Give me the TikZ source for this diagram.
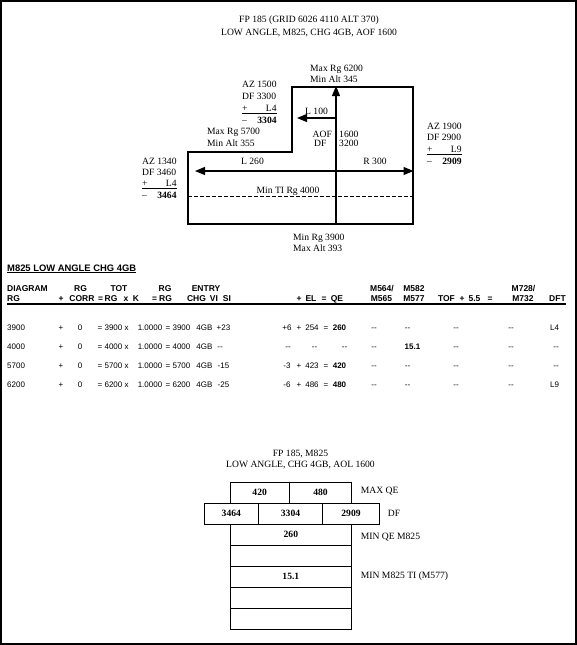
\documentclass[tikz,border=0pt]{standalone}
\usepackage{fontspec}
\setmainfont{Liberation Serif}
\newfontfamily\arialf{Liberation Sans}
\usetikzlibrary{arrows.meta}
\newcommand\dsh{-{}-}
\begin{document}
\begin{tikzpicture}[x=1pt,y=-1pt,
  sr/.style={inner sep=0pt,font=\fontsize{9.6}{11}\selectfont},
  srb/.style={inner sep=0pt,font=\bfseries\fontsize{9.6}{11}\selectfont},
  hd/.style={inner sep=0pt,anchor=base,font=\arialf\bfseries\fontsize{8.5}{10}\selectfont},
  dt/.style={inner sep=0pt,anchor=base,font=\arialf\fontsize{8}{10}\selectfont},
  outline/.style={draw,line width=1.1pt},
  tip/.tip={Triangle[length=10pt,width=8pt]},
  arr/.style={line width=1.1pt,-tip},
  cell/.style={draw,line width=0.9pt,inner sep=0pt,minimum height=21pt,font=\bfseries\fontsize{9.6}{11}\selectfont},
]
\useasboundingbox (0,0) rectangle (577,645);
\fill[white] (0,0) rectangle (577,645);
% frame
\fill[black] (0,0) rectangle (577,2);
\fill[black] (0,0) rectangle (2,645);
\fill[black] (574.5,0) rectangle (577,645);
\fill[black] (0,642.5) rectangle (577,645);

% ---------- top diagram ----------
\node[sr,anchor=base] (t1) at (309,22.4) {FP 185 (GRID 6026 4110 ALT 370)};
\node[sr,anchor=base] (t2) at (309,35.4) {LOW ANGLE, M825, CHG 4GB, AOF 1600};

\draw[outline] (188,152) -- (292,152) -- (292,87) -- (413,87) -- (413,224) -- (188,224) -- cycle;
\draw[dashed,dash pattern=on 4pt off 2pt,line width=0.9pt] (188,196.5) -- (413,196.5);

\coordinate (vb) at (336,224);
\coordinate (vt) at (336,86);
\coordinate (lj) at (336,118);
\coordinate (lt) at (297,118);
\coordinate (hl) at (195,171);
\coordinate (hr) at (413.5,171);
\draw[arr] (vb) -- (vt);
\draw[arr] (lj) -- (lt);
\draw[line width=1.1pt,tip-tip] (hl) -- (hr);

\node[sr,anchor=base west] (mx62) at (310,71.7) {Max Rg 6200};
\node[sr,anchor=base west] (mn345) at (310,82.6) {Min Alt 345};
\node[sr,anchor=base west] (l100) at (305,114.4) {L 100};
\node[sr,anchor=base west] (aof) at (312.5,137.3) {AOF};
\node[sr,anchor=base west] (aofv) at (339,137.3) {1600};
\node[sr,anchor=base west] (df) at (314,146.8) {DF};
\node[sr,anchor=base west] (dfv) at (339,146.8) {3200};
\node[sr,anchor=base west] (mx57) at (207,134.6) {Max Rg 5700};
\node[sr,anchor=base west] (mn355) at (207,146.1) {Min Alt 355};
\node[sr,anchor=base] (l260) at (252.5,164) {L 260};
\node[sr,anchor=base] (r300) at (375,164) {R 300};
\node[sr,anchor=base] (minti) at (288,193) {Min TI Rg 4000};
\node[sr,anchor=base west] (mn39) at (293,240) {Min Rg 3900};
\node[sr,anchor=base west] (mx393) at (293,251.5) {Max Alt 393};

% AZ 1500 block
\node[sr,anchor=base west] (az15) at (242,87) {AZ 1500};
\node[sr,anchor=base west] (df33) at (242,99) {DF 3300};
\node[sr,anchor=base west] (p15) at (242,111) {+};
\node[sr,anchor=base east] (l415) at (az15.base east |- 0,111) {L4};
\draw[line width=0.9pt] (az15.west |- 0,113.6) -- (az15.east |- 0,113.6);
\node[sr,anchor=base west] (e15) at (242,123) {--};
\node[srb,anchor=base east] (v3304) at (az15.base east |- 0,123) {3304};

% AZ 1340 block
\node[sr,anchor=base west] (az13) at (142,164) {AZ 1340};
\node[sr,anchor=base west] (df34) at (142,175.4) {DF 3460};
\node[sr,anchor=base west] (p13) at (142,186.7) {+};
\node[sr,anchor=base east] (l413) at (az13.base east |- 0,186.7) {L4};
\draw[line width=1.6pt] (az13.west |- 0,188.6) -- (az13.east |- 0,188.6);
\node[sr,anchor=base west] (e13) at (142,198.4) {--};
\node[srb,anchor=base east] (v3464) at (az13.base east |- 0,198.4) {3464};

% AZ 1900 block
\node[sr,anchor=base west] (az19) at (427,129.4) {AZ 1900};
\node[sr,anchor=base west] (df29) at (427,140.9) {DF 2900};
\node[sr,anchor=base west] (p19) at (427,152) {+};
\node[sr,anchor=base east] (l919) at (az19.base east |- 0,152) {L9};
\draw[line width=0.9pt] (az19.west |- 0,154) -- (az19.east |- 0,154);
\node[sr,anchor=base west] (e19) at (427,164) {--};
\node[srb,anchor=base east] (v2909) at (az19.base east |- 0,164) {2909};

% ---------- table ----------
\node[hd,anchor=base west,font=\arialf\bfseries\fontsize{9.4}{10}\selectfont] (tt) at (7,271) {M825 LOW ANGLE CHG 4GB};
\draw[line width=0.9pt] ([yshift=-1.6pt]tt.base west) -- ([yshift=-1.6pt]tt.base east);

\node[hd,anchor=base west] (hdiag) at (7,291.5) {DIAGRAM};
\foreach \x/\t [count=\k] in {80.5/RG,119/TOT,165/RG,206/ENTRY,382/M564\slash,414/M582,523.5/M728\slash}
  \node[hd] (ha\k) at (\x,291.5) {\t};
\node[hd,anchor=base west] (hrg) at (7,301.5) {RG};
\foreach \x/\t [count=\k] in {61/+,82/CORR,100.5/=,111/RG,126/x,136/K,154.5/=,165.5/RG,196.5/CHG,214/VI,227/SI,299/+,311/EL,324/=,337/QE,381.5/M565,414/M577,446.5/TOF,462/+,474.5/5.5,490/=,523/M732,557.5/DFT}
  \node[hd] (hb\k) at (\x,301.5) {\t};
\draw[line width=1.5pt] (hrg.west |- 0,304.2) -- (hb23.east |- 0,304.2);

% common columns
\foreach \y/\v [count=\r] in {330/3900,349.2/4000,368.2/5700,387.5/6200}{
  \node[dt,anchor=base west] (d\r a) at (7,\y) {\v};
  \foreach \x/\t [count=\k] in {61/+,80/0,100/=,113.5/\v,126.5/x,150/1.0000,168/=,181.5/\v,204.5/4GB}
    \node[dt] (d\r c\k) at (\x,\y) {\t};
}
% row 1
\foreach \x/\t [count=\k] in {223.5/+23,287/+6,299/+,312/254,326/=,339.5/\textbf{260},374/\dsh,407.5/\dsh,456/\dsh,511/\dsh,554.5/L4}
  \node[dt] (e1c\k) at (\x,330) {\t};
% row 2
\foreach \x/\t [count=\k] in {220/\dsh,288/\dsh,314.5/\dsh,344.5/\dsh,374/\dsh,412.5/\textbf{15.1},456/\dsh,511/\dsh,556/\dsh}
  \node[dt] (e2c\k) at (\x,349.2) {\t};
% row 3
\foreach \x/\t [count=\k] in {223.5/-15,287/-3,299/+,312/423,326/=,339.5/\textbf{420},374/\dsh,407.5/\dsh,456/\dsh,511/\dsh,556/\dsh}
  \node[dt] (e3c\k) at (\x,368.2) {\t};
% row 4
\foreach \x/\t [count=\k] in {223.5/-25,287/-6,299/+,312/486,326/=,339.5/\textbf{480},374/\dsh,407.5/\dsh,456/\dsh,511/\dsh,554.5/L9}
  \node[dt] (e4c\k) at (\x,387.5) {\t};

% ---------- bottom ----------
\node[sr,anchor=base] (b1) at (300.5,456.7) {FP 185, M825};
\node[sr,anchor=base] (b2) at (300.5,467.7) {LOW ANGLE, CHG 4GB, AOL 1600};

\node[cell,minimum width=59.3pt] (q420) at (259.65,492.8) {420};
\node[cell,minimum width=62.4pt] (q480) at (320.5,492.8) {480};
\node[cell,minimum width=54pt] (f3464) at (231.3,513.8) {3464};
\node[cell,minimum width=64.4pt] (f3304) at (290.5,513.8) {3304};
\node[cell,minimum width=56.6pt] (f2909) at (351,513.8) {2909};
\foreach \y/\t [count=\k] in {534.77/260,555.71/,576.65/15.1,597.59/,618.53/}
  \node[cell,minimum width=121.7pt,minimum height=20.94pt] (m\k) at (290.85,\y) {\t};

\node[sr,anchor=base west] (lmax) at (360.7,493.4) {MAX QE};
\node[sr,anchor=base west] (ldf) at (387.7,516) {DF};
\node[sr,anchor=base west] (lmin) at (360.7,539) {MIN QE M825};
\node[sr,anchor=base west] (lti) at (360.7,578.4) {MIN M825 TI (M577)};
\end{tikzpicture}
\end{document}
